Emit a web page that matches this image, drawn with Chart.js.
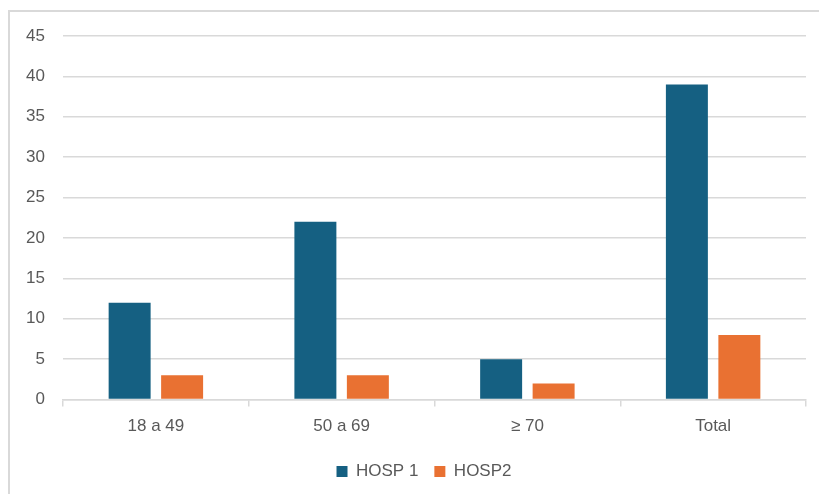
<!DOCTYPE html>
<html>
<head>
<meta charset="utf-8">
<script src="https://cdn.jsdelivr.net/npm/chart.js@4/dist/chart.umd.min.js"></script>
<style>
  html, body { margin: 0; padding: 0; background: #ffffff; }
  body { width: 819px; height: 494px; position: relative; overflow: hidden; }
  .frame {
    position: absolute; left: 8px; top: 10px; width: 900px; height: 600px;
    border-top: 2px solid #d9d9d9; border-left: 2px solid #d9d9d9;
    box-sizing: border-box;
  }
  #wrap { position: absolute; left: 0; top: 0; width: 819px; height: 494px; }
</style>
</head>
<body>
<div class="frame"></div>
<div id="wrap"><canvas id="chart"></canvas></div>
<script>
const categories = ['18 a 49', '50 a 69', '\u2265 70', 'Total'];
const hosp1 = [12, 22, 5, 39];
const hosp2 = [3, 3, 2, 8];
const seriesNames = ['HOSP 1', 'HOSP2'];
const yMax = 45;
const yStep = 5;

const textColor = '#595959';
const gridColor = '#d9d9d9';
const fontFamily = '"Liberation Sans", Arial, sans-serif';

// Centre the legend under the wider chart frame rather than the canvas.
const legendShift = {
  id: 'legendShift',
  afterLayout(chart) {
    if (chart.legend) {
      chart.legend.left += 21;
      chart.legend.right += 21;
    }
  }
};

new Chart(document.getElementById('chart'), {
  type: 'bar',
  data: {
    labels: categories,
    datasets: [
      { label: seriesNames[0], data: hosp1, backgroundColor: '#156082',
        categoryPercentage: 0.565, barPercentage: 0.8 },
      { label: seriesNames[1], data: hosp2, backgroundColor: '#E97132',
        categoryPercentage: 0.565, barPercentage: 0.8 }
    ]
  },
  plugins: [legendShift],
  options: {
    responsive: true,
    maintainAspectRatio: false,
    animation: false,
    layout: { padding: { left: 0, right: 13, top: 36, bottom: 4 } },
    plugins: {
      tooltip: { enabled: false },
      legend: {
        position: 'bottom',
        labels: {
          color: textColor,
          font: { family: fontFamily, size: 17 },
          boxWidth: 11,
          boxHeight: 11,
          padding: 16,
          useBorderRadius: false
        }
      }
    },
    scales: {
      x: {
        offset: true,
        grid: {
          offset: true,
          drawOnChartArea: false,
          drawTicks: true,
          tickLength: 7,
          color: gridColor,
          lineWidth: 1.5
        },
        border: { display: true, color: gridColor, width: 1.5 },
        ticks: {
          color: textColor,
          font: { family: fontFamily, size: 17 },
          padding: 10
        }
      },
      y: {
        min: 0,
        max: yMax,
        afterFit(scale) { scale.width = 63; },
        grid: { color: gridColor, lineWidth: 1.5, drawTicks: false },
        border: { display: false },
        ticks: {
          stepSize: yStep,
          color: textColor,
          font: { family: fontFamily, size: 17 },
          padding: 18
        }
      }
    }
  }
});
</script>
</body>
</html>
